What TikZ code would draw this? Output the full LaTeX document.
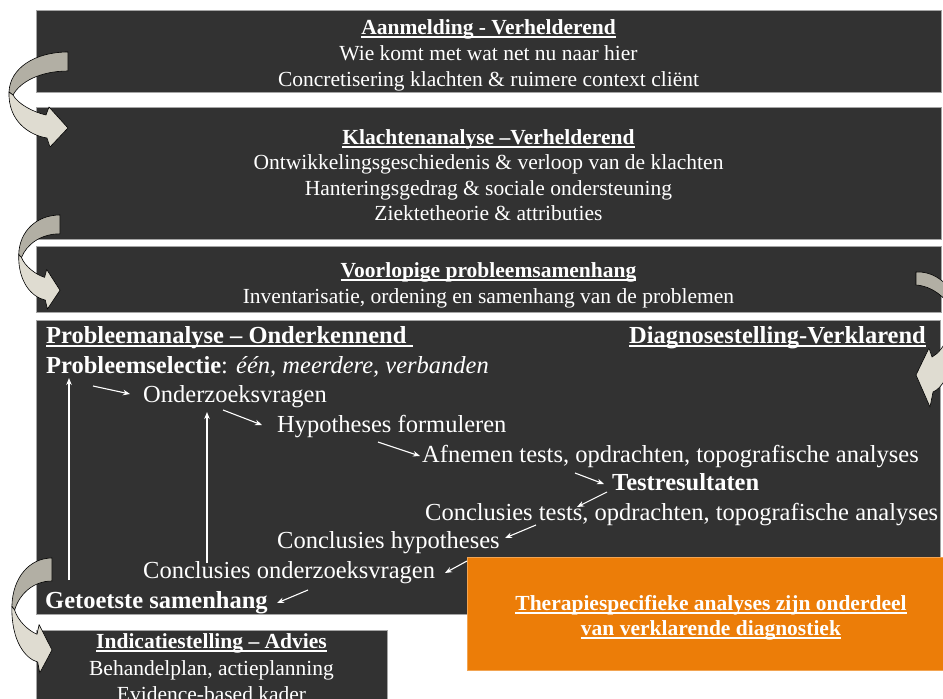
\documentclass[tikz,border=0pt]{standalone}
\usepackage{fontspec}
\setmainfont{Liberation Serif}
\usetikzlibrary{arrows.meta}

% underlined heading text with a heavier rule
\newsavebox{\undlbox}
\newcommand{\undl}[1]{\sbox{\undlbox}{#1}\rlap{\rule[-3.5pt]{\wd\undlbox}{1.3pt}}\usebox{\undlbox}}

\definecolor{panel}{RGB}{50,50,50}
\definecolor{panelrim}{RGB}{165,165,165}
\definecolor{accent}{RGB}{236,125,8}
\definecolor{ribbonback}{RGB}{178,175,164}
\definecolor{ribbonfront}{RGB}{223,220,209}

\tikzset{
  panelbox/.style={fill=panel, draw=panelrim, line width=0.8pt, inner sep=0pt},
  notebox/.style={fill=accent, draw=accent!70!white, line width=0.8pt, inner sep=0pt},
  boxtext/.style={text=white, font=\fontsize{21.5}{26}\selectfont, inner sep=0pt, anchor=base},
  stagetext/.style={text=white, font=\fontsize{24.5}{29}\selectfont, inner sep=0pt, anchor=base west},
  flow/.style={white, line width=1.1pt, -{Stealth[length=7pt,width=5.5pt]}},
  ribbon/.style={draw=black, line width=0.6pt, line join=round},
  twist/.pic={
    % back face of the turning ribbon
    \filldraw[ribbon, fill=ribbonback]
      (0,0) .. controls (-33,0) and (-58,16) .. (-59,40)
      -- (-55,43) .. controls (-48,30) and (-28,19) .. (0,19) -- cycle;
    % front face with the arrow head
    \filldraw[ribbon, fill=ribbonfront]
      (-59,40) .. controls (-60,68) and (-40,83) .. (-21,86)
      -- (-18,95) -- (0,76) -- (-19,55) -- (-22,63)
      .. controls (-35,60) and (-50,52) .. (-55,43) -- cycle;
  }
}

\begin{document}
\begin{tikzpicture}[x=1pt,y=-1pt]
\useasboundingbox (0,0) rectangle (943,699);
\clip (0,0) rectangle (943,699);
\fill[white] (0,0) rectangle (943,699);

% stage panels
\node[panelbox, minimum width=905pt, minimum height=82pt] (aanmelding) at (488.5,51) {};
\node[panelbox, minimum width=905pt, minimum height=132pt] (klachten) at (488.5,173) {};
\node[panelbox, minimum width=905pt, minimum height=66pt] (voorlopig) at (488.5,279) {};
\node[panelbox, minimum width=904pt, minimum height=294pt] (analyse) at (488,467) {};
\node[panelbox, minimum width=351pt, minimum height=100pt] (indicatie) at (211.5,680) {};

% Aanmelding
\node[boxtext] (a1) at (488.5,34) {\undl{\textbf{Aanmelding - Verhelderend}}};
\node[boxtext] (a2) at (488.5,60) {Wie komt met wat net nu naar hier};
\node[boxtext] (a3) at (488.5,86) {Concretisering klachten \& ruimere context cliënt};

% Klachtenanalyse
\node[boxtext] (k1) at (488.5,144) {\undl{\textbf{Klachtenanalyse –Verhelderend}}};
\node[boxtext] (k2) at (488.5,169) {Ontwikkelingsgeschiedenis \& verloop van de klachten};
\node[boxtext] (k3) at (488.5,195) {Hanteringsgedrag \& sociale ondersteuning};
\node[boxtext] (k4) at (488.5,220) {Ziektetheorie \& attributies};

% Voorlopige probleemsamenhang
\node[boxtext] (v1) at (488.5,277) {\undl{\textbf{Voorlopige probleemsamenhang}}};
\node[boxtext] (v2) at (488.5,303) {Inventarisatie, ordening en samenhang van de problemen};

% Probleemanalyse and diagnosis
\node[stagetext] (p0) at (46,343) {\undl{\textbf{Probleemanalyse – Onderkennend\ }}};
\node[stagetext, anchor=base east] (d0) at (926,343) {\undl{\textbf{Diagnosestelling-Verklarend}}};
\node[stagetext] (p1) at (46,373) {\textbf{Probleemselectie}: \textit{één, meerdere, verbanden}};
\node[stagetext] (p2) at (143,402) {Onderzoeksvragen};
\node[stagetext] (p3) at (277,432) {Hypotheses formuleren};
\node[stagetext] (p4) at (422,462) {Afnemen tests, opdrachten, topografische analyses};
\node[stagetext] (p5) at (612,490) {\textbf{Testresultaten}};
\node[stagetext] (p6) at (425,520) {Conclusies tests, opdrachten, topografische analyses};
\node[stagetext] (p7) at (277,548) {Conclusies hypotheses};
\node[stagetext] (p8) at (143,578) {Conclusies onderzoeksvragen};
\node[stagetext] (p9) at (45,608) {\textbf{Getoetste samenhang}};

% arrow end points between the steps
\coordinate (s1) at (93,386);   \coordinate (e1) at (130,394);
\coordinate (s2) at (223,410);  \coordinate (e2) at (262,425);
\coordinate (s3) at (378,442);  \coordinate (e3) at (420,456);
\coordinate (s4) at (575,473);  \coordinate (e4) at (604,484);
\coordinate (s5) at (607,492);  \coordinate (e5) at (577,507);
\coordinate (s6) at (536,525);  \coordinate (e6) at (505,538);
\coordinate (s7) at (467,561);  \coordinate (e7) at (445,573);
\coordinate (s8) at (308,590);  \coordinate (e8) at (277,603);
\coordinate (u1) at (69,580);   \coordinate (w1) at (69,378);
\coordinate (u2) at (207,563);  \coordinate (w2) at (207,412);

\draw[flow] (s1) -- (e1);
\draw[flow] (s2) -- (e2);
\draw[flow] (s3) -- (e3);
\draw[flow] (s4) -- (e4);
\draw[flow] (s5) -- (e5);
\draw[flow] (s6) -- (e6);
\draw[flow] (s7) -- (e7);
\draw[flow] (s8) -- (e8);
\draw[flow] (u1) -- (w1);
\draw[flow] (u2) -- (w2);

% Indicatiestelling
\node[boxtext] (i1) at (211.5,648) {\undl{\textbf{Indicatiestelling – Advies}}};
\node[boxtext] (i2) at (211.5,675) {Behandelplan, actieplanning};
\node[boxtext] (i3) at (211.5,701) {Evidence-based kader};

% note panel
\node[notebox, minimum width=488pt, minimum height=113pt] (note) at (711,613.5) {};
\node[boxtext] (n1) at (711,610) {\undl{\textbf{Therapiespecifieke analyses zijn onderdeel}}};
\node[boxtext] (n2) at (711,635) {\undl{\textbf{van verklarende diagnostiek}}};

% turning ribbon arrows between the stages
\pic at (68,52) {twist};
\pic[xscale=0.7, yscale=0.99] at (60,215) {twist};
\pic[xscale=0.68, yscale=1.21] at (52,558) {twist};

% ribbon on the right side
\filldraw[ribbon, fill=ribbonback]
  (916,272) .. controls (935,271) and (952,285) .. (957,305)
  -- (953,310) .. controls (945,297) and (932,286) .. (916,285) -- cycle;
\filldraw[ribbon, fill=ribbonfront]
  (957,305) .. controls (962,340) and (950,385) .. (933,392)
  -- (930,407) -- (916,375) -- (929,348) -- (932,357)
  .. controls (945,350) and (952,330) .. (953,310) -- cycle;
\end{tikzpicture}
\end{document}
